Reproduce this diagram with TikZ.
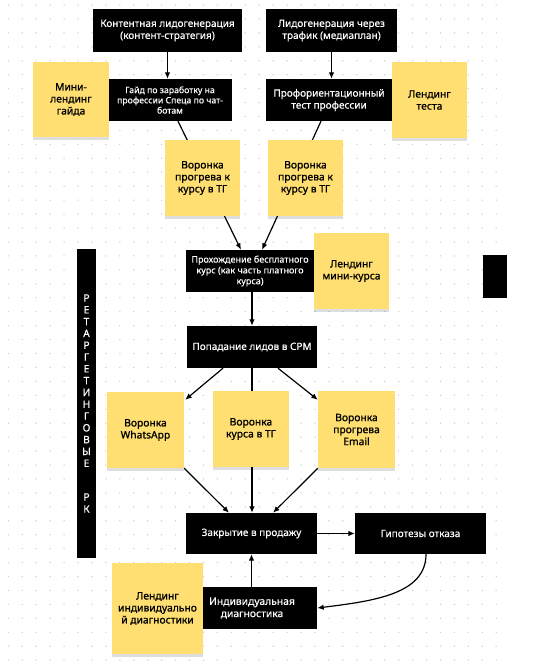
\documentclass[tikz,border=0pt]{standalone}
\usepackage{fontspec}
\setmainfont{Noto Sans}
\newfontfamily\wfont{Noto Sans}[FakeBold=0.35]
\newfontfamily\sfont{Noto Sans}[FakeBold=1.0]
\usetikzlibrary{arrows.meta,shadows,calc}
\pgfdeclarelayer{bg}
\pgfdeclarelayer{lines}
\pgfsetlayers{bg,lines,main}
\definecolor{sticky}{HTML}{FFDF71}
\definecolor{dotc}{HTML}{CDCDCD}
\tikzset{
  blk/.style={fill=black, text=white, inner sep=0pt, align=center,
    font=\wfont\fontsize{10}{12}\selectfont},
  small/.style={font=\wfont\fontsize{8.7}{10.2}\selectfont},
  stk/.style={fill=sticky, inner sep=0pt, align=center,
    font=\sfont\fontsize{10.3}{12}\selectfont,
    drop shadow={fill=black, opacity=0.13, shadow xshift=0pt, shadow yshift=-2.5pt}},
  lbl/.style={inner sep=0pt, align=center},
  arr/.style={line width=1.2pt, -{Latex[length=6.5pt,width=5.5pt]}},
  ln/.style={line width=1.2pt},
  vlet/.style={text=white, inner sep=0pt, font=\wfont\fontsize{10.2}{10}\selectfont},
}
\begin{document}
\begin{tikzpicture}[x=1pt,y=-1pt]
\useasboundingbox (0,0) rectangle (558,669);
\begin{pgfonlayer}{bg}
  \fill[white] (0,0) rectangle (558,669);
  \foreach \i in {0,...,35} {
    \foreach \j in {0,...,47} {
      \fill[dotc] (8.3+13.94*\i, 5+13.94*\j) circle (0.75);
    }
  }
\end{pgfonlayer}

% black boxes
\node[blk, minimum width=149, minimum height=43] (kont) at (167.5,30.5) {Контентная лидогенерация\\(контент-стратегия)};
\node[blk, minimum width=131, minimum height=43] (lid) at (331.5,30.5) {Лидогенерация через\\трафик (медиаплан)};
\node[blk, small, minimum width=124, minimum height=42] (gaid) at (170,100) {Гайд по заработку на\\профессии Спеца по чат-\\ботам};
\node[blk, minimum width=126, minimum height=42] (prof) at (329,100) {Профориентационный\\тест профессии};
\node[blk, font=\wfont\fontsize{9}{10.8}\selectfont, minimum width=128, minimum height=42] (proh) at (250,271) {Прохождение бесплатного\\курс (как часть платного\\курса)};
\node[blk, minimum width=130, minimum height=42] (pop) at (252,347) {Попадание лидов в СРМ};
\node[blk, minimum width=131, minimum height=41] (zak) at (251.5,533.5) {Закрытие в продажу};
\node[blk, minimum width=131, minimum height=41] (gip) at (420.5,533.5) {Гипотезы отказа};
\node[fill=black, inner sep=0pt, minimum width=114, minimum height=42] (ind) at (260,608) {};
\node[lbl, text=white, font=\wfont\fontsize{10.3}{12.3}\selectfont] (indt) at (252,608) {Индивидуальная\\диагностика};
\node[fill=black, inner sep=0pt, minimum width=19, minimum height=309] (bar) at (86.5,403.5) {};
\node[fill=black, inner sep=0pt, minimum width=24, minimum height=43] (rect) at (495,276.5) {};

% vertical text
\foreach \l [count=\k from 0] in {Р,Е,Т,А,Р,Г,Е,Т,И,Н,Г,О,В,Ы,Е} {
  \node[vlet] (rl\k) at (86.5, 298+11.8*\k) {\l};
}
\node[vlet] (rk1) at (86.5,497) {Р};
\node[vlet] (rk2) at (86.5,509) {К};

% stickies
\node[stk, minimum width=76, minimum height=75] (smini) at (71,99.5) {Мини-\\лендинг\\гайда};
\node[stk, minimum width=75, minimum height=76] (stest) at (429.5,100) {Лендинг\\теста};
\node[stk, minimum width=75, minimum height=76] (sv1) at (202.5,178) {Воронка\\прогрева к\\курсу в ТГ};
\node[stk, minimum width=75, minimum height=76] (sv2) at (305.5,178) {Воронка\\прогрева к\\курсу в ТГ};
\node[stk, minimum width=75, minimum height=76] (smk) at (351.5,271) {Лендинг\\мини-курса};
\node[stk, minimum width=77, minimum height=76] (swa) at (145.5,430) {Воронка\\WhatsApp};
\node[stk, minimum width=76, minimum height=76] (svk) at (251,429) {Воронка\\курса в ТГ};
\node[stk, minimum width=77, minimum height=77] (sem) at (356.5,429.5) {Воронка\\прогрева\\Email};
\node[stk, minimum width=91, minimum height=91] (sind) at (157.5,608.5) {Лендинг\\индивидуально\\й диагностики};

% connectors
\begin{pgfonlayer}{lines}
  \draw[arr] (kont.south) -- (kont.south |- gaid.north);
  \draw[arr] (lid.south) -- (lid.south |- prof.north);
  \draw[arr] ($(gaid.south)+(8,0)$) -- ($(proh.north)+(-9,0)$);
  \draw[arr] ($(prof.south)+(-8,0)$) -- ($(proh.north)+(12,0)$);
  \draw[arr] (pop.north |- proh.south) -- (pop.north);
  \draw[arr] ($(pop.south)+(-29,0)$) -- ($(swa.north east)+(1,8)$);
  \draw[arr] ($(pop.south)+(26,0)$) -- ($(sem.north west)+(0,9)$);
  \draw[arr] (pop.south) -- (pop.south |- zak.north);
  \draw[arr] (swa.south east) -- ($(zak.north)+(-22.5,0)$);
  \draw[arr] (sem.south west) -- ($(zak.north)+(21.5,0)$);
  \draw[arr] (zak.east) -- (gip.west);
  \draw[arr] (zak.south |- ind.north) -- (zak.south);
  \draw[arr] ($(gip.south)+(5.5,0)$) .. controls (426,594) and (374,601) .. (ind.east);
\end{pgfonlayer}
\end{tikzpicture}
\end{document}
